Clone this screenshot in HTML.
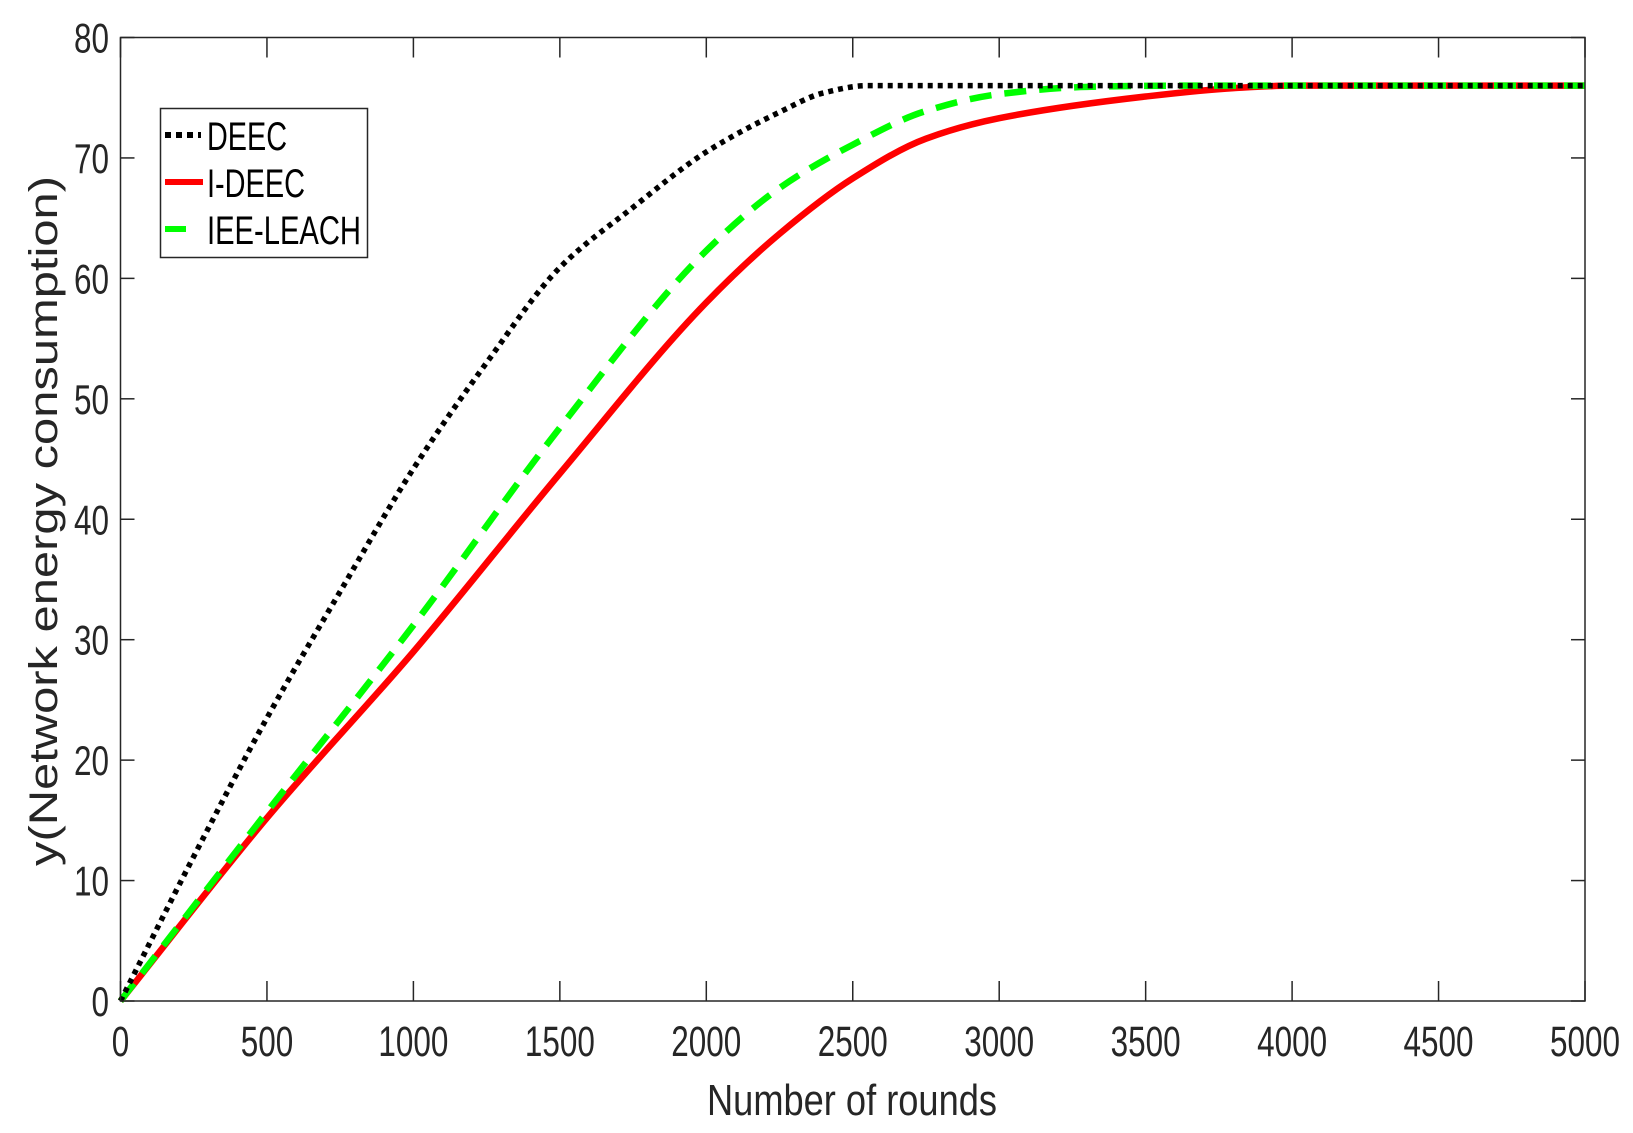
<!DOCTYPE html>
<html><head><meta charset="utf-8"><style>
html,body{margin:0;padding:0;background:#fff;}
svg{display:block;}
text{font-family:"Liberation Sans",sans-serif;fill:#262626;}
</style></head><body>
<svg id="s" width="1633" height="1133" viewBox="0 0 1633 1133" xmlns="http://www.w3.org/2000/svg">
<rect x="0" y="0" width="1633" height="1133" fill="#fff"/>
<g id="ticks" stroke="#262626" stroke-width="1.5" fill="none"></g>
<g id="lbl"></g>
<g id="curves"></g>
<rect x="120.5" y="37.5" width="1464.5" height="963.5" fill="none" stroke="#262626" stroke-width="1.5"/>
<text x="852" y="1115" font-size="44" text-anchor="middle" textLength="290" lengthAdjust="spacingAndGlyphs">Number of rounds</text>
<text transform="translate(57,521) rotate(-90)" x="0" y="0" font-size="40" text-anchor="middle" textLength="690" lengthAdjust="spacingAndGlyphs">y(Network energy consumption)</text>
<rect x="160.5" y="108.5" width="207" height="149" fill="#fff" stroke="#262626" stroke-width="1.5"/>
<line x1="165" y1="135" x2="201" y2="135" stroke="#000" stroke-width="6" stroke-dasharray="6,5"/>
<line x1="165" y1="182" x2="203" y2="182" stroke="#f00" stroke-width="6"/>
<line x1="165" y1="229" x2="186" y2="229" stroke="#0f0" stroke-width="6"/>
<text x="207" y="150" font-size="40" style="fill:#000" textLength="80" lengthAdjust="spacingAndGlyphs">DEEC</text>
<text x="207" y="197" font-size="40" style="fill:#000" textLength="98" lengthAdjust="spacingAndGlyphs">I-DEEC</text>
<text x="207" y="244" font-size="40" style="fill:#000" textLength="154" lengthAdjust="spacingAndGlyphs">IEE-LEACH</text>
</svg>
<script>
var X0=120.5,X1=1585,Y0=1001,Y1=37.5;
function px(x){return X0+x*(X1-X0)/5000;}
function py(y){return Y0-y*(Y0-Y1)/80;}
var NS="http://www.w3.org/2000/svg";
var tk=document.getElementById('ticks'),lb=document.getElementById('lbl');
function el(p,tag,a,t){var e=document.createElementNS(NS,tag);for(var k in a)e.setAttribute(k,a[k]);if(t!==undefined)e.textContent=t;p.appendChild(e);return e;}
for(var i=0;i<=10;i++){var x=px(i*500);
 el(tk,'line',{x1:x,y1:Y0,x2:x,y2:Y0-20});el(tk,'line',{x1:x,y1:Y1,x2:x,y2:Y1+20});
 var s=String(i*500);el(lb,'text',{x:x,y:1056,'font-size':43,'text-anchor':'middle',textLength:s.length*17.5,lengthAdjust:'spacingAndGlyphs'},s);}
for(var j=0;j<=8;j++){var y=py(j*10);
 el(tk,'line',{x1:X0,y1:y,x2:X0+14,y2:y});el(tk,'line',{x1:X1,y1:y,x2:X1-14,y2:y});
 var s=String(j*10);el(lb,'text',{x:109,y:y+15,'font-size':42,'text-anchor':'end',textLength:s.length*17.5,lengthAdjust:'spacingAndGlyphs'},s);}
function path(pts){var P=pts.map(function(p){return [px(p[0]),py(p[1])];});var n=P.length;
 var d=[],m=[];for(var i=0;i<n-1;i++)d.push((P[i+1][1]-P[i][1])/(P[i+1][0]-P[i][0]));
 m[0]=d[0];m[n-1]=d[n-2];
 for(var i=1;i<n-1;i++){ if(d[i-1]*d[i]<=0)m[i]=0; else {var h0=P[i][0]-P[i-1][0],h1=P[i+1][0]-P[i][0];var w1=2*h1+h0,w2=h1+2*h0;m[i]=(w1+w2)/(w1/d[i-1]+w2/d[i]);}}
 var s='M'+P[0][0]+','+P[0][1];
 for(var i=0;i<n-1;i++){var h=(P[i+1][0]-P[i][0])/3;
  s+=' C'+(P[i][0]+h)+','+(P[i][1]+m[i]*h)+' '+(P[i+1][0]-h)+','+(P[i+1][1]-m[i+1]*h)+' '+P[i+1][0]+','+P[i+1][1];}
 return s;}
var cv=document.getElementById('curves');
var red=[[0,0],[500,15.2],[1000,29],[1500,43.8],[2000,58],[2250,63.7],[2500,68.3],[2750,71.6],[3000,73.3],[3500,75.1],[3800,75.8],[4000,76],[5000,76]];
var grn=[[0,0],[500,15.7],[1000,31.2],[1500,47.6],[2000,62.3],[2250,67.5],[2500,71.1],[2750,73.9],[3000,75.3],[3300,75.9],[3600,76],[5000,76]];
var blk=[[0,0],[250,12],[500,23.5],[750,34],[1000,44.2],[1250,53],[1500,60.9],[1750,65.9],[2000,70.5],[2250,73.8],[2400,75.4],[2550,76],[5000,76]];
el(cv,'path',{d:path(red),fill:'none',stroke:'#f00','stroke-width':6.5});
el(cv,'path',{d:path(grn),fill:'none',stroke:'#0f0','stroke-width':6.5,'stroke-dasharray':'22,13'});
el(cv,'path',{d:path(blk),fill:'none',stroke:'#000','stroke-width':5.5,'stroke-dasharray':'5,5'});
</script>
</body></html>
